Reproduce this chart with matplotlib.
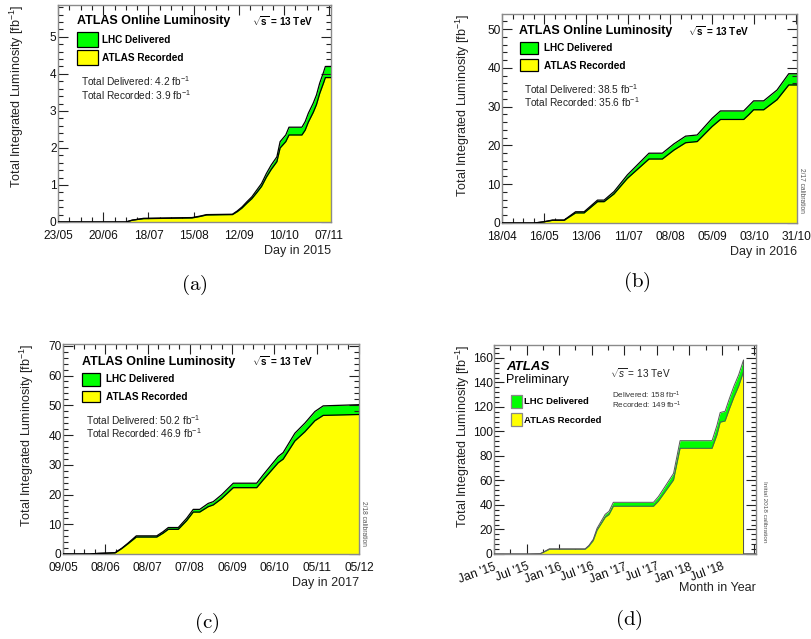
import matplotlib
matplotlib.use('Agg')
import matplotlib.pyplot as plt
from matplotlib.patches import Rectangle
from matplotlib.ticker import MultipleLocator

plt.rcParams['font.family'] = ['Liberation Sans', 'DejaVu Sans']
plt.rcParams['mathtext.fontset'] = 'custom'
plt.rcParams['mathtext.rm'] = 'Liberation Sans'
plt.rcParams['mathtext.it'] = 'Liberation Sans:italic'
plt.rcParams['mathtext.bf'] = 'Liberation Sans:bold'

# ---------------- data ----------------
# (a) 2015, days since 23/05/2015
a_days = [0, 42, 46, 53, 83, 88, 92, 108, 111, 114, 117, 120, 123, 126, 129, 132, 135.5, 137.5,
          141, 143, 151, 153, 155, 158, 160, 162, 164.5, 165.5, 169]
a_delivered = [0, 0, 0.05, 0.1, 0.12, 0.16, 0.2, 0.21, 0.3, 0.41, 0.55, 0.68, 0.86, 1.04, 1.31, 1.54,
               1.76, 2.17, 2.35, 2.56, 2.56, 2.71, 2.94, 3.21, 3.43, 3.75, 4.06, 4.2, 4.2]
a_recorded = [0, 0, 0.05, 0.09, 0.11, 0.15, 0.19, 0.2, 0.28, 0.38, 0.51, 0.63, 0.79, 0.96, 1.21, 1.42,
              1.63, 2.0, 2.17, 2.35, 2.35, 2.48, 2.7, 2.96, 3.17, 3.47, 3.77, 3.9, 3.9]
a_ticklabels = ['23/05', '20/06', '18/07', '15/08', '12/09', '10/10', '07/11']

# (b) 2016, days since 18/04/2016
b_days = [0, 21.5, 28, 33.7, 41.4, 49, 54.7, 63.6, 68, 74.6, 83.5, 97.9, 106.8, 114.5, 122.3, 130,
          140, 145.5, 161, 164.3, 167.6, 174.3, 183.2, 191, 196.5]
b_delivered = [0, 0, 0.34, 0.77, 0.77, 2.9, 2.9, 5.9, 5.9, 8.1, 12.4, 18.0, 18.0, 20.4, 22.4, 22.7,
               27.0, 28.9, 28.9, 30.2, 31.5, 31.5, 34.3, 38.5, 38.5]
b_recorded = [0, 0, 0.3, 0.7, 0.7, 2.6, 2.6, 5.5, 5.5, 7.5, 11.5, 16.5, 16.5, 18.8, 20.7, 21.0,
              24.9, 26.7, 26.7, 27.9, 29.2, 29.2, 31.8, 35.6, 35.6]
b_ticklabels = ['18/04', '16/05', '13/06', '11/07', '08/08', '05/09', '03/10', '31/10']

# (c) 2017, days since 09/05/2017
c_days = [0, 19, 25, 31, 37, 41.6, 46, 52, 66.5, 71, 74.7, 81.8, 87.7, 92.4, 97, 103, 106.6, 112.5,
          120.8, 137.4, 142, 152.7, 156.2, 164.5, 171.6, 178.7, 184.6, 210]
c_delivered = [0, 0, 0.2, 0.3, 0.45, 1.9, 3.6, 6.1, 6.1, 7.5, 8.9, 8.9, 12.0, 15.0, 15.0, 17.0, 17.6,
               19.9, 23.8, 23.8, 26.6, 32.8, 34.1, 40.6, 44.0, 47.9, 49.8, 50.2]
c_recorded = [0, 0, 0.2, 0.3, 0.4, 1.8, 3.4, 5.7, 5.7, 7.0, 8.3, 8.3, 11.2, 14.1, 14.1, 15.9, 16.5,
              18.6, 22.3, 22.3, 24.9, 30.7, 31.9, 38.0, 41.1, 44.8, 46.6, 46.9]
c_ticklabels = ['09/05', '08/06', '08/07', '07/08', '06/09', '06/10', '05/11', '05/12']

# (d) Run 2, months since Jan 2015
d_months = [0, 6.5, 8.5, 9.5, 10.2, 16.8, 17.5, 18.3, 19, 20.5, 21.2, 22, 29.4, 30.3, 31.9, 33.1,
            34.3, 40.2, 41.1, 41.7, 42.6, 43.4, 44.2, 45.1, 46.0, 46.0, 48.3]
d_delivered = [0, 0, 0.2, 2.5, 4.2, 4.2, 7, 12, 21, 32.4, 34.8, 42.2, 42.2, 46.8, 57.6, 65.8,
               92.5, 92.5, 105, 115.5, 116.5, 127, 136.7, 146.2, 158.4, 0, 0]
d_recorded = [0, 0, 0.2, 2.3, 3.9, 3.9, 6.5, 11.1, 19.5, 30.0, 32.2, 39.0, 39.0, 43.1, 53.0, 60.5,
              86.3, 86.3, 97.3, 107.6, 108.6, 118.5, 127.8, 137.0, 149, 0, 0]
d_ticklabels = ["Jan '15", "Jul '15", "Jan '16", "Jul '16", "Jan '17", "Jul '17", "Jan '18", "Jul '18", ""]

GREEN = '#00ff00'
YELLOW = '#ffff00'

W, H = 811, 639
fig = plt.figure(figsize=(W / 100, H / 100), dpi=100)


def add_axes(l, t, r, b):
    return fig.add_axes([l / W, 1 - b / H, (r - l) / W, (b - t) / H])


def style(ax, tick_fs, xpad=5.5):
    for s in ax.spines.values():
        s.set_color('#8a8a8a')
        s.set_linewidth(1.0)
    ax.tick_params(which='both', direction='in', top=True, right=True, colors='#222222',
                   labelcolor='#111111', labelsize=tick_fs)
    ax.tick_params(which='major', length=7, width=0.8)
    ax.tick_params(which='minor', length=3.5, width=0.8)
    ax.tick_params(axis='x', pad=xpad)
    ax.tick_params(axis='y', pad=1)


def draw(ax, x, dl, rc, edge='k', lw=0.9):
    ax.fill_between(x, 0, dl, color=GREEN, lw=0, zorder=1)
    ax.fill_between(x, 0, rc, color=YELLOW, lw=0, zorder=2)
    ax.plot(x, dl, color=edge, lw=lw, zorder=3)
    ax.plot(x, rc, color=edge, lw=lw, zorder=3)


def labels(ax, xlabel, ylab_x, xlab_y, fs=9):
    ax.set_ylabel('Total Integrated Luminosity [fb$^{-1}$]', loc='top', fontsize=fs, color='#222222')
    ax.yaxis.set_label_coords(ylab_x, 1.0)
    ax.set_xlabel(xlabel, loc='right', fontsize=fs, color='#222222', va='center')
    ax.xaxis.set_label_coords(1.0, xlab_y)


def legend_block(ax, pos, delivered, recorded, fs_title=9, fs_leg=7.2, fs_tot=7.3):
    (tx, ty, sx, gb, yb, bx0, bx1, lx, ly1, ly2, ttx, tty1, tty2) = pos
    ax.text(tx, ty, 'ATLAS Online Luminosity', transform=ax.transAxes, fontsize=fs_title,
            fontweight='bold', ha='left', va='center')
    ax.text(sx, ty, r'$\sqrt{\mathbf{s}}$ = 13 TeV', transform=ax.transAxes, fontsize=7.2,
            fontweight='bold', ha='left', va='center')
    ax.add_patch(Rectangle((bx0, gb[0]), bx1 - bx0, gb[1] - gb[0], transform=ax.transAxes,
                           facecolor=GREEN, edgecolor='k', lw=0.9, zorder=5))
    ax.add_patch(Rectangle((bx0, yb[0]), bx1 - bx0, yb[1] - yb[0], transform=ax.transAxes,
                           facecolor=YELLOW, edgecolor='k', lw=0.9, zorder=5))
    ax.text(lx, ly1, 'LHC Delivered', transform=ax.transAxes, fontsize=fs_leg, fontweight='bold',
            ha='left', va='center')
    ax.text(lx, ly2, 'ATLAS Recorded', transform=ax.transAxes, fontsize=fs_leg, fontweight='bold',
            ha='left', va='center')
    ax.text(ttx, tty1, 'Total Delivered: %s fb$^{-1}$' % delivered, transform=ax.transAxes,
            fontsize=fs_tot, ha='left', va='center', color='#222222')
    ax.text(ttx, tty2, 'Total Recorded: %s fb$^{-1}$' % recorded, transform=ax.transAxes,
            fontsize=fs_tot, ha='left', va='center', color='#222222')


# ---------------- (a) ----------------
axa = add_axes(58, 5, 331, 222)
style(axa, 8.6)
draw(axa, a_days, a_delivered, a_recorded)
axa.set_xlim(0, 169)
axa.set_ylim(0, 5.86)
axa.set_xticks([28 * i for i in range(len(a_ticklabels))])
axa.set_xticklabels(a_ticklabels)
axa.xaxis.set_minor_locator(MultipleLocator(7))
axa.yaxis.set_major_locator(MultipleLocator(1))
axa.yaxis.set_minor_locator(MultipleLocator(0.2))
labels(axa, 'Day in 2015', -32 / 273, -29 / 217)
legend_block(axa, (0.07, 0.926, 0.71, (0.806, 0.876), (0.7235, 0.793), 0.07, 0.1465,
                   0.161, 0.841, 0.758, 0.084, 0.65, 0.585), '4.2', '3.9')

# ---------------- (b) ----------------
axb = add_axes(502, 14, 797, 223)
style(axb, 8.6)
draw(axb, b_days, b_delivered, b_recorded)
axb.set_xlim(0, 196.5)
axb.set_ylim(0, 53.9)
axb.set_xticks([28 * i for i in range(len(b_ticklabels))])
axb.set_xticklabels(b_ticklabels)
axb.xaxis.set_minor_locator(MultipleLocator(7))
axb.yaxis.set_major_locator(MultipleLocator(10))
axb.yaxis.set_minor_locator(MultipleLocator(2))
labels(axb, 'Day in 2016', -30 / 295, -29 / 209)
legend_block(axb, (0.059, 0.92, 0.632, (0.809, 0.867), (0.727, 0.783), 0.061, 0.123,
                   0.142, 0.836, 0.753, 0.0746, 0.64, 0.58), '38.5', '35.6')
axb.text(1.014, 0.158, '2/17 calibration', transform=axb.transAxes, rotation=-90, fontsize=4.8,
         color='#555555', ha='center', va='center')

# ---------------- (c) ----------------
axc = add_axes(63, 344, 359, 554)
style(axc, 8.6)
draw(axc, c_days, c_delivered, c_recorded)
axc.set_xlim(0, 210)
axc.set_ylim(0, 70.6)
axc.set_xticks([30 * i for i in range(len(c_ticklabels))])
axc.set_xticklabels(c_ticklabels)
axc.xaxis.set_minor_locator(MultipleLocator(7.5))
axc.yaxis.set_major_locator(MultipleLocator(10))
axc.yaxis.set_minor_locator(MultipleLocator(2))
labels(axc, 'Day in 2017', -27 / 296, -29 / 210)
legend_block(axc, (0.063, 0.916, 0.637, (0.8, 0.863), (0.722, 0.778), 0.063, 0.125,
                   0.145, 0.832, 0.749, 0.078, 0.638, 0.578), '50.2', '46.9')
axc.text(1.015, 0.146, '2/18 calibration', transform=axc.transAxes, rotation=-90, fontsize=4.8,
         color='#555555', ha='center', va='center')

# ---------------- (d) ----------------
axd = add_axes(494, 345, 756, 554)
style(axd, 8.6, xpad=5)
draw(axd, d_months, d_delivered, d_recorded, edge='#555555', lw=0.7)
axd.set_xlim(0, 48.3)
axd.set_ylim(0, 170.6)
axd.set_xticks([6 * i for i in range(len(d_ticklabels))])
axd.set_xticklabels(d_ticklabels, rotation=20, ha='right', va='top', rotation_mode='anchor',
                    fontsize=8.8)
axd.xaxis.set_minor_locator(MultipleLocator(3))
axd.yaxis.set_major_locator(MultipleLocator(20))
axd.yaxis.set_minor_locator(MultipleLocator(4))
labels(axd, 'Month in Year', -22 / 262, -34 / 209)
axd.text(0.046, 0.896, 'ATLAS', transform=axd.transAxes, fontsize=9.5, fontweight='bold',
         fontstyle='italic', ha='left', va='center')
axd.text(0.046, 0.833, 'Preliminary', transform=axd.transAxes, fontsize=9, ha='left', va='center')
axd.text(0.443, 0.867, r'$\sqrt{s}$ = 13 TeV', transform=axd.transAxes, fontsize=7.2,
         ha='left', va='center', color='#222222')
axd.text(0.449, 0.761, 'Delivered: 158 fb$^{-1}$', transform=axd.transAxes, fontsize=5.8,
         ha='left', va='center', color='#333333')
axd.text(0.449, 0.713, 'Recorded: 149 fb$^{-1}$', transform=axd.transAxes, fontsize=5.8,
         ha='left', va='center', color='#333333')
axd.add_patch(Rectangle((0.065, 0.70), 0.041, 0.061, transform=axd.transAxes,
                        facecolor=GREEN, edgecolor='#888888', lw=0.9, zorder=5))
axd.add_patch(Rectangle((0.065, 0.612), 0.041, 0.061, transform=axd.transAxes,
                        facecolor=YELLOW, edgecolor='#888888', lw=0.9, zorder=5))
axd.text(0.116, 0.729, 'LHC Delivered', transform=axd.transAxes, fontsize=6.8, fontweight='bold',
         ha='left', va='center')
axd.text(0.116, 0.641, 'ATLAS Recorded', transform=axd.transAxes, fontsize=6.8, fontweight='bold',
         ha='left', va='center')
axd.text(1.032, 0.2, 'Initial 2018 calibration', transform=axd.transAxes, rotation=-90,
         fontsize=4.6, color='#555555', ha='center', va='center')

# ---------------- captions ----------------
for (cx, cy, lab) in [(194, 285, '(a)'), (637, 282, '(b)'), (207, 623, '(c)'), (629, 620, '(d)')]:
    fig.text(cx / W, 1 - cy / H, r'$\mathrm{%s}$' % lab, math_fontfamily='cm', fontsize=15,
             ha='center', va='center')

fig.savefig('out.png', dpi=100)
